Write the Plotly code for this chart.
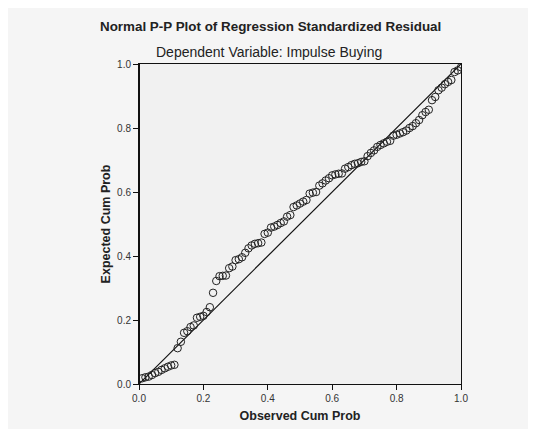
import plotly.graph_objects as go

# Observed cumulative probability (x) and expected cumulative probability (y)
observed_cum_prob = [
    0.01, 0.02, 0.03, 0.04, 0.05, 0.06, 0.07, 0.08, 0.09, 0.10,
    0.11, 0.12, 0.13, 0.14, 0.15, 0.16, 0.17, 0.18, 0.19, 0.20,
    0.21, 0.22, 0.23, 0.24, 0.25, 0.26, 0.27, 0.28, 0.29, 0.30,
    0.31, 0.32, 0.33, 0.34, 0.35, 0.36, 0.37, 0.38, 0.39, 0.40,
    0.41, 0.42, 0.43, 0.44, 0.45, 0.46, 0.47, 0.48, 0.49, 0.50,
    0.51, 0.52, 0.53, 0.54, 0.55, 0.56, 0.57, 0.58, 0.59, 0.60,
    0.61, 0.62, 0.63, 0.64, 0.65, 0.66, 0.67, 0.68, 0.69, 0.70,
    0.71, 0.72, 0.73, 0.74, 0.75, 0.76, 0.77, 0.78, 0.79, 0.80,
    0.81, 0.82, 0.83, 0.84, 0.85, 0.86, 0.87, 0.88, 0.89, 0.90,
    0.91, 0.92, 0.93, 0.94, 0.95, 0.96, 0.97, 0.98, 0.99, 1.00,
]
expected_cum_prob = [
    0.018, 0.021, 0.023, 0.028, 0.034, 0.038, 0.044, 0.049, 0.054, 0.058,
    0.060, 0.112, 0.132, 0.160, 0.165, 0.178, 0.183, 0.207, 0.210, 0.213,
    0.225, 0.240, 0.285, 0.322, 0.337, 0.338, 0.339, 0.362, 0.367, 0.387,
    0.390, 0.396, 0.410, 0.424, 0.433, 0.438, 0.440, 0.442, 0.469, 0.473,
    0.489, 0.492, 0.497, 0.503, 0.508, 0.523, 0.528, 0.553, 0.558, 0.564,
    0.570, 0.575, 0.595, 0.598, 0.600, 0.620, 0.627, 0.636, 0.643, 0.652,
    0.655, 0.657, 0.658, 0.673, 0.678, 0.684, 0.688, 0.690, 0.694, 0.696,
    0.712, 0.722, 0.730, 0.741, 0.747, 0.752, 0.757, 0.760, 0.776, 0.779,
    0.783, 0.787, 0.792, 0.800, 0.806, 0.815, 0.825, 0.840, 0.850, 0.857,
    0.887, 0.897, 0.918, 0.926, 0.937, 0.944, 0.950, 0.975, 0.980, 0.990,
]
ref_line = [0.0, 1.0]
tick_vals = [0.0, 0.2, 0.4, 0.6, 0.8, 1.0]
tick_text = ["0.0", "0.2", "0.4", "0.6", "0.8", "1.0"]

FONT = "Liberation Sans, Arial, sans-serif"

fig = go.Figure()
fig.add_trace(go.Scatter(
    x=ref_line, y=ref_line, mode="lines",
    line=dict(color="#111111", width=1.2), hoverinfo="skip", showlegend=False,
))
fig.add_trace(go.Scatter(
    x=observed_cum_prob, y=expected_cum_prob, mode="markers",
    marker=dict(symbol="circle-open", size=7.5, color="#222222",
                line=dict(width=1, color="#222222")),
    showlegend=False,
))

axis_common = dict(
    range=[0, 1], tickvals=tick_vals, ticktext=tick_text, automargin=False,
    showgrid=False, zeroline=False, showline=True, linecolor="#111111",
    linewidth=1, mirror=True, ticks="outside", ticklen=5, tickcolor="#111111",
    tickfont=dict(family=FONT, size=10, color="#333333"),
)

fig.update_layout(
    width=536, height=429,
    margin=dict(l=131, r=83, t=56, b=53),
    paper_bgcolor="#f5f5f5", plot_bgcolor="#f1f1f1",
    xaxis=dict(**axis_common,
               title=dict(text="<b>Observed Cum Prob</b>", standoff=8,
                          font=dict(family=FONT, size=12.5, color="#222222"))),
    yaxis=dict(**axis_common,
               title=dict(text="<b>Expected Cum Prob</b>", standoff=3,
                          font=dict(family=FONT, size=12.5, color="#222222"))),
    annotations=[
        dict(text="<b>Normal P-P Plot of Regression Standardized Residual</b>",
             xref="paper", yref="paper", x=(270 - 139) / 322,
             y=(384 - 26) / 320, xanchor="center", yanchor="middle",
             showarrow=False, font=dict(family=FONT, size=13.4, color="#222222")),
        dict(text="Dependent Variable: Impulse Buying",
             xref="paper", yref="paper", x=(269 - 139) / 322,
             y=(384 - 52) / 320, xanchor="center", yanchor="middle",
             showarrow=False, font=dict(family=FONT, size=14, color="#222222")),
    ],
    shapes=[
        dict(type="line", xref="paper", yref="paper",
             x0=0, x1=0, y0=0, y1=1, line=dict(color="#111111", width=2)),
    ],
)

fig.write_html("out.html")
